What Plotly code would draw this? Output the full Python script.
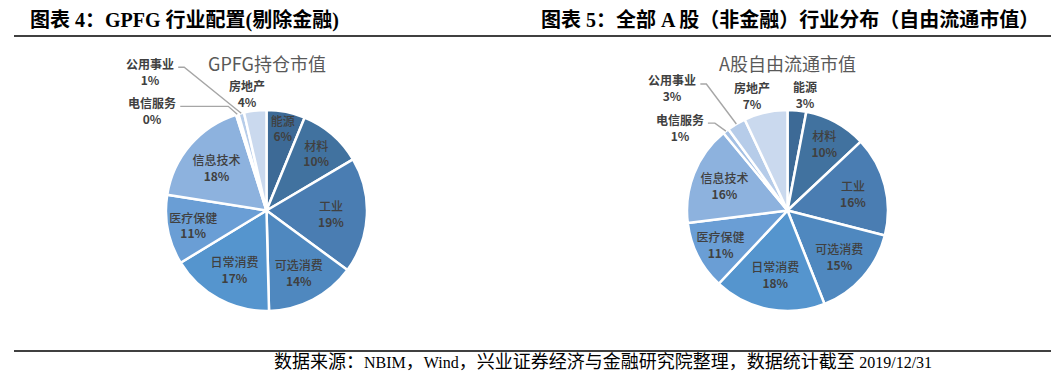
import math
import plotly.graph_objects as go

W, H = 1062, 389

# ---------------- data ----------------
sectors = ["能源", "材料", "工业", "可选消费", "日常消费", "医疗保健",
           "信息技术", "电信服务", "公用事业", "房地产"]
gpfg_values = [6.2, 10.3, 18.6, 14.5, 16.7, 11.2, 17.6, 0.4, 0.9, 3.6]
ashare_values = [3.0, 10.0, 16.0, 15.0, 18.0, 11.0, 16.0, 1.0, 3.0, 7.0]

colors = ["#3D6A96", "#41729F", "#4A7DB2", "#4F88BF", "#5595CE",
          "#6A9ED5", "#8DB2DE", "#A4C0E4", "#B6CCE9", "#CAD9EE"]

title_left = "图表 4：GPFG 行业配置(剔除金融)"
title_right = "图表 5：全部 A 股（非金融）行业分布（自由流通市值）"
sub_left = "GPFG持仓市值"
sub_right = "A股自由流通市值"
source_parts = ["数据来源：", "NBIM", "，", "Wind", "，兴业证券经济与金融研究院整理，数据统计截至 ", "2019/12/31"]

# ---------------- layout geometry (pixels) ----------------
left_c, right_c, R = (266.5, 210.5), (787.5, 210.5), 100.5

TXT = "#404040"
FONT = "Noto Sans CJK SC, Noto Sans, sans-serif"


def domain(c):
    cx, cy = c
    return dict(x=[(cx - R) / W, (cx + R) / W],
                y=[1 - (cy + R) / H, 1 - (cy - R) / H])


# per chart: values, centre, outside labels {sector: (dx, dy, kink_len or None)}
specs = [
    (gpfg_values, left_c, {"房地产": (-8, -17, None),
                           "公用事业": (-91, -42, 6),
                           "电信服务": (-85, -4, 48)}),
    (ashare_values, right_c, {"能源": (8, -16, None),
                              "房地产": (-14, -17, None),
                              "公用事业": (-64, -36, 6),
                              "电信服务": (-46, -4, 7)}),
]

fig = go.Figure()
for vals, c, outs in specs:
    fig.add_trace(go.Pie(
        labels=sectors, values=vals, sort=False, direction="clockwise",
        rotation=0, domain=domain(c),
        marker=dict(colors=colors, line=dict(color="white", width=2.5)),
        textposition=["none" if s in outs else "inside" for s in sectors],
        texttemplate="%{label}<br><b>%{percent:.0%}</b>",
        insidetextorientation="horizontal",
        insidetextfont=dict(family=FONT, size=12, color=TXT, weight=500),
        hoverinfo="label+percent", showlegend=False,
    ))

shapes = []
annotations = []


def px2paper(x, y):
    return x / W, 1 - y / H


for ti, (vals, c, outs) in enumerate(specs):
    total = sum(vals)
    cum = 0.0
    for s, v in zip(sectors, vals):
        mid = (cum + v / 2) / total * 2 * math.pi
        cum += v
        if s not in outs:
            continue
        ex = c[0] + R * math.sin(mid)
        ey = c[1] - R * math.cos(mid)
        dx, dy, kink = outs[s]
        lx, ly = ex + dx, ey + dy
        pct = f"{round(v / total * 100)}%"
        x, y = px2paper(lx, ly)
        annotations.append(dict(
            x=x, y=y, xref="paper", yref="paper", showarrow=False,
            text=f"<b>{s}</b><br><b>{pct}</b>", align="center",
            font=dict(family=FONT, size=12, color=TXT),
            xanchor="center", yanchor="middle"))
        if kink is not None:
            sx, sy = lx + 28, ly - 4
            kx = sx + kink
            p = [px2paper(sx, sy), px2paper(kx, sy), px2paper(ex, ey)]
            shapes.append(dict(
                type="path", xref="paper", yref="paper",
                path="M {} {} L {} {} L {} {}".format(p[0][0], p[0][1], p[1][0], p[1][1], p[2][0], p[2][1]),
                line=dict(color="#A6A6A6", width=1.4)))

# titles
TITLE_FONT = "Liberation Serif, Noto Sans CJK SC, serif"
for txt, x in [(title_left, 28), (title_right, 539)]:
    annotations.append(dict(
        x=x / W, y=1 - 20 / H, xref="paper", yref="paper", showarrow=False,
        text=f"<b>{txt}</b>", xanchor="left", yanchor="middle",
        font=dict(family=TITLE_FONT, size=20, color="black")))

for txt, c in [(sub_left, left_c), (sub_right, right_c)]:
    annotations.append(dict(
        x=c[0] / W, y=1 - 63 / H, xref="paper", yref="paper", showarrow=False,
        text=txt, xanchor="center", yanchor="middle",
        font=dict(family=FONT, size=18, color="#595959")))

src_html = ""
for i, part in enumerate(source_parts):
    if i in (1, 3, 5):
        src_html += f'<span style="font-size:16px">{part}</span>'
    else:
        src_html += part
annotations.append(dict(
    x=272 / W, y=1 - 362 / H, xref="paper", yref="paper", showarrow=False,
    text=src_html, xanchor="left", yanchor="middle",
    font=dict(family="Liberation Serif, Noto Sans CJK SC, serif", size=18, color="black")))

for yy in (36, 351):
    shapes.append(dict(type="line", xref="paper", yref="paper",
                       x0=14 / W, x1=1051 / W, y0=1 - yy / H, y1=1 - yy / H,
                       line=dict(color="black", width=1.5)))

fig.update_layout(
    width=W, height=H, margin=dict(l=0, r=0, t=0, b=0),
    paper_bgcolor="white", plot_bgcolor="white",
    uniformtext=dict(minsize=12, mode="show"),
    shapes=shapes, annotations=annotations,
)

fig.write_html("out.html", config={"displayModeBar": False},
               post_script="document.body.style.margin='0';")
